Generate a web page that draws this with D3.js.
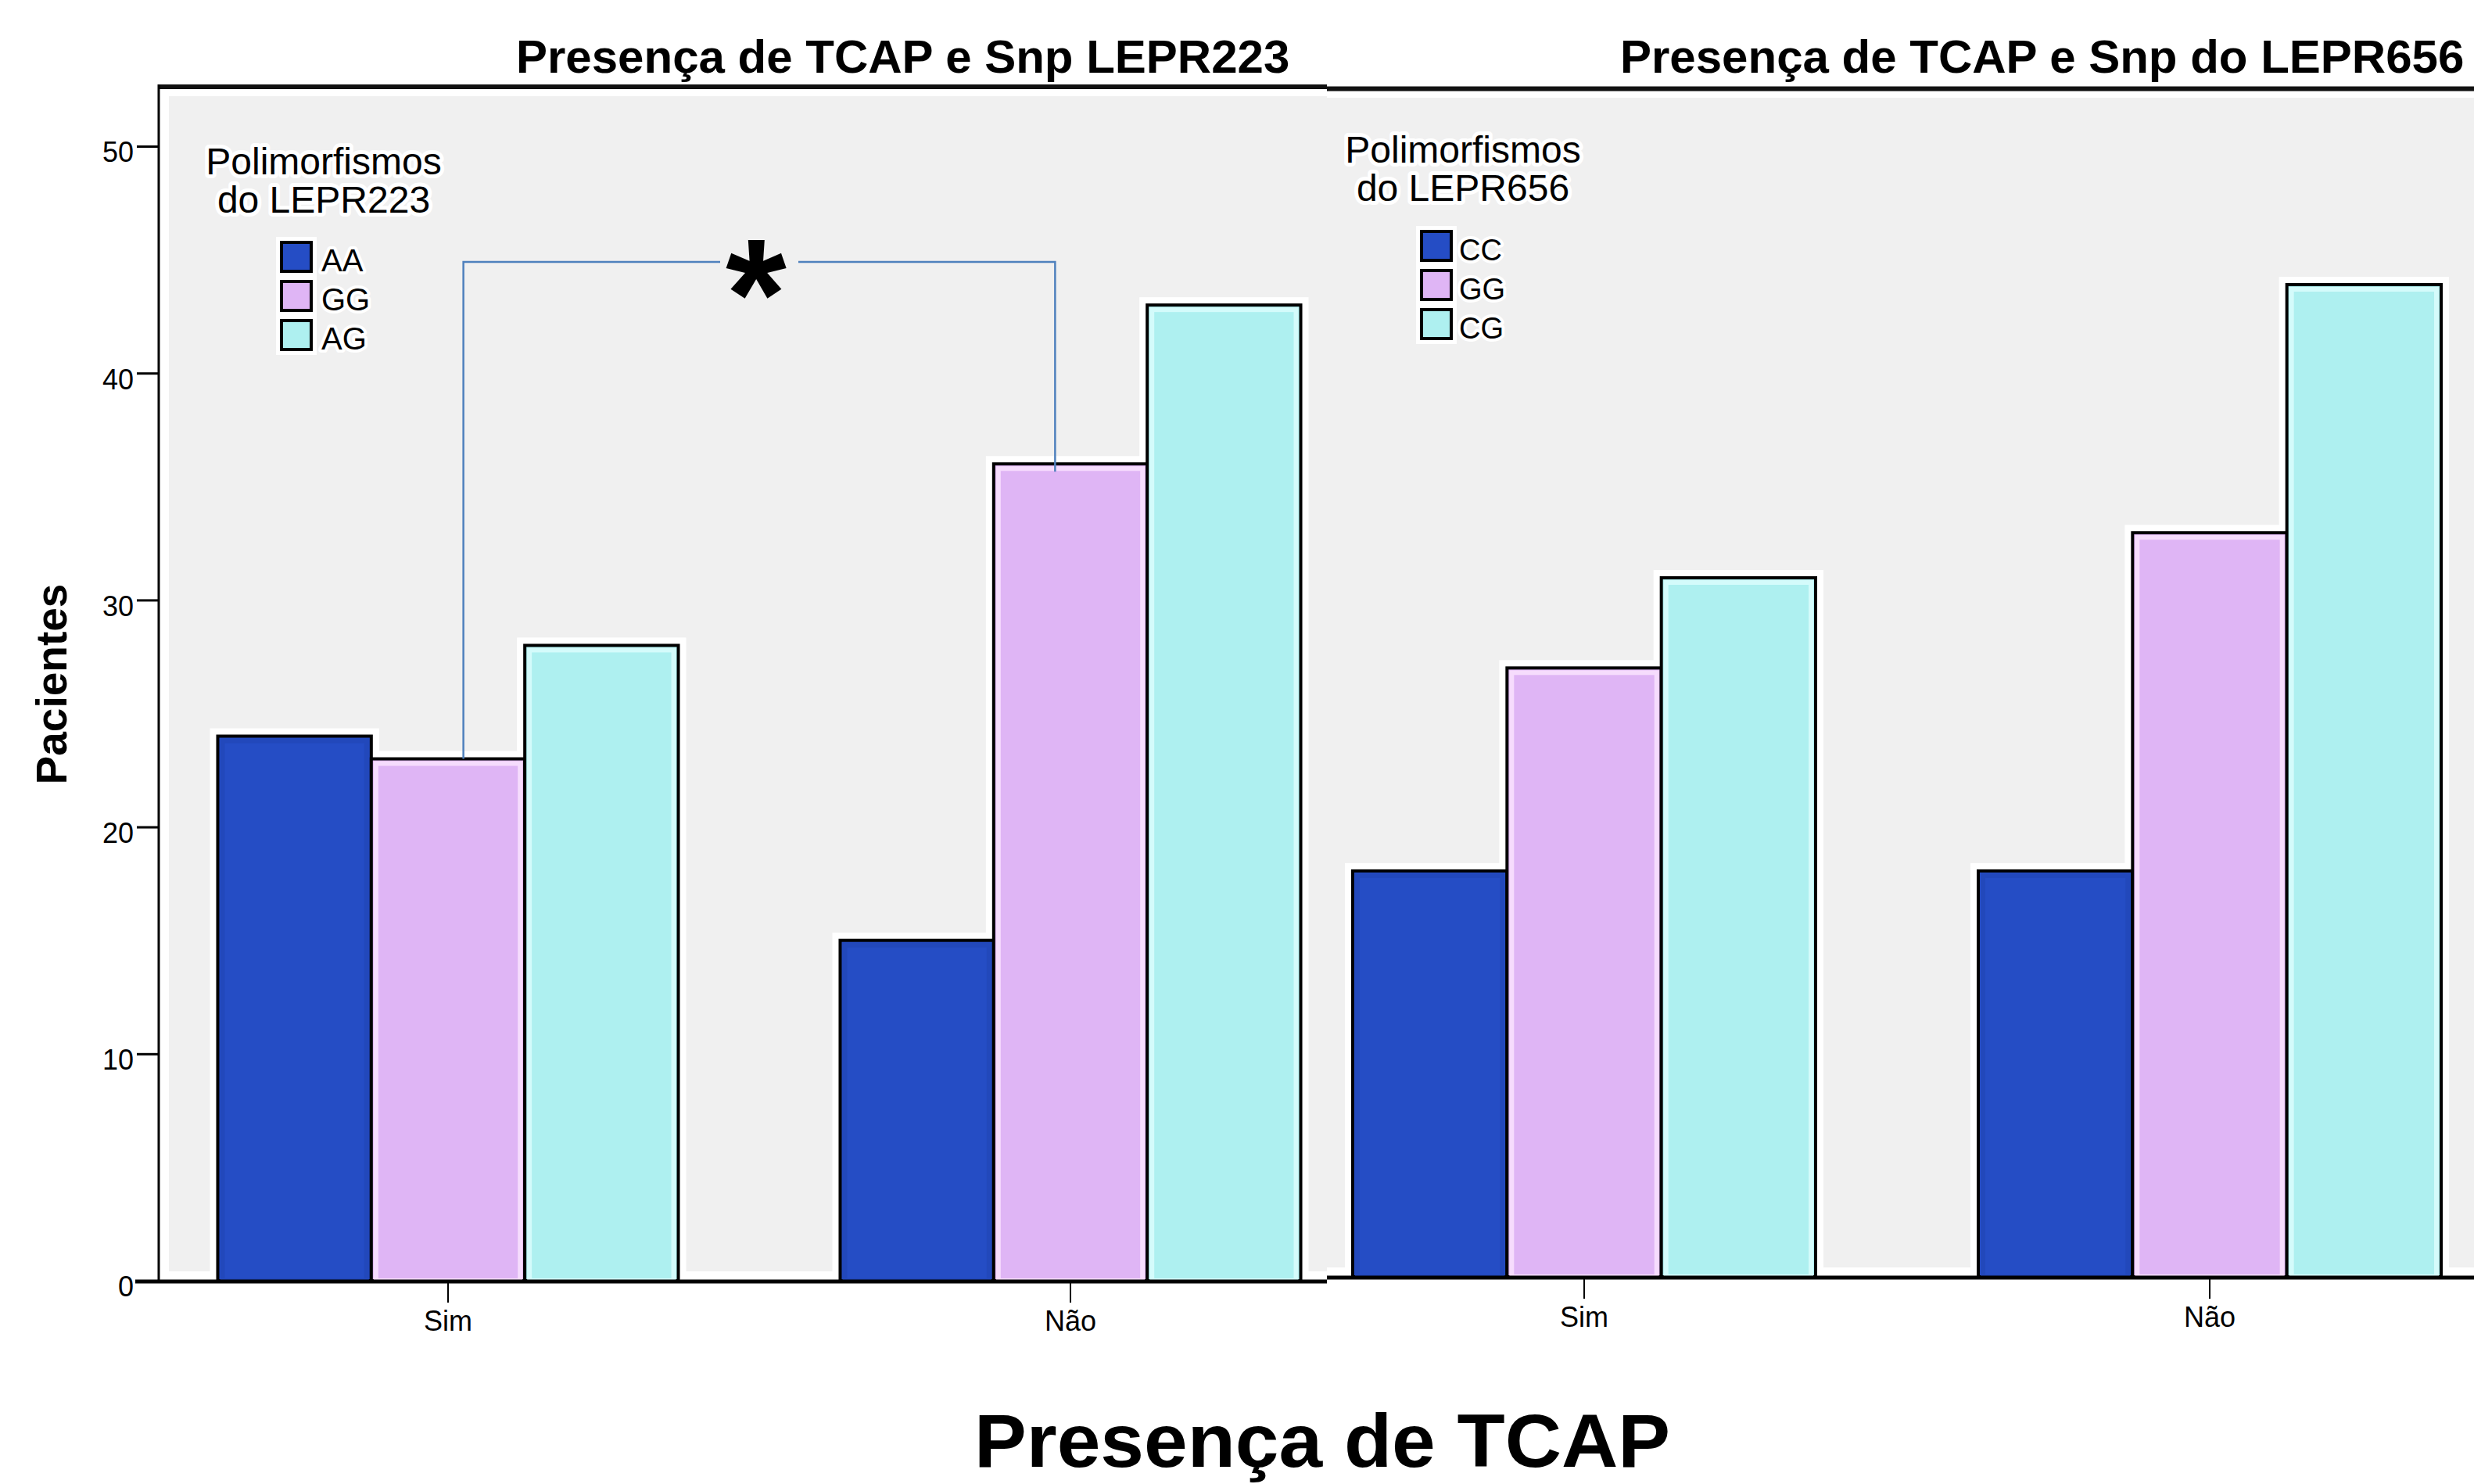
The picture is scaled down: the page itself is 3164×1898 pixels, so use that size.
<!DOCTYPE html>
<html>
<head>
<meta charset="utf-8">
<script src="https://cdn.jsdelivr.net/npm/d3@7"></script>
<style>
  body { margin: 0; background: #fff; }
  svg { display: block; }
</style>
</head>
<body>
<div id="chart"></div>
<script>
// chart data
const categories = ['Sim', 'Não']
const lepr223Genotypes = ['AA', 'GG', 'AG']
const lepr656Genotypes = ['CC', 'GG', 'CG']
const lepr223AA = [24, 15]
const lepr223GG = [23, 36]
const lepr223AG = [28, 43]
const lepr656CC = [18, 18]
const lepr656GG = [27, 33]
const lepr656CG = [31, 44]
const yTicks = [0, 10, 20, 30, 40, 50]

// fill + inner highlight per genotype slot
const fills = ['#254dc5', '#dfb5f5', '#aef0f0']
const highlights = ['#2248bb', '#f6dcfd', '#d4fbfb']
const bracketColor = '#4f81bd'
const font = 'Liberation Sans, Arial, sans-serif'

const W = 3164
const H = 1898

const svg = d3.select('#chart')
  .append('svg')
  .attr('width', W)
  .attr('height', H)
  .style('font-family', font)

svg.append('rect').attr('width', W).attr('height', H).attr('fill', '#fff')

// draws one grouped bar panel
function drawPanel(p) {
  const g = svg.append('g')

  const x = d3.scaleBand()
    .domain(categories)
    .range(p.xRange)
    .paddingInner(0.26)
    .paddingOuter(0.13)

  const xSub = d3.scaleBand()
    .domain(p.genotypes)
    .range([0, x.bandwidth()])

  const y = d3.scaleLinear().domain([0, 50]).range(p.yRange)

  // grey plot background
  g.append('rect')
    .attr('x', p.plot[0])
    .attr('y', p.plot[1])
    .attr('width', p.plot[2] - p.plot[0])
    .attr('height', p.plot[3] - p.plot[1])
    .attr('fill', '#f0f0f0')

  // flatten series into bar records
  const bars = []
  categories.forEach((c, ci) => {
    p.genotypes.forEach((gt, gi) => {
      bars.push({ cat: c, gt, gi, value: p.series[gi][ci] })
    })
  })

  // white halo behind bars
  g.selectAll('.halo')
    .data(bars)
    .enter()
    .append('rect')
    .attr('class', 'halo')
    .attr('x', d => x(d.cat) + xSub(d.gt))
    .attr('y', d => y(d.value))
    .attr('width', xSub.bandwidth())
    .attr('height', d => y(0) - y(d.value))
    .attr('fill', '#fff')
    .attr('stroke', '#fff')
    .attr('stroke-width', 20)

  const bar = g.selectAll('.bar')
    .data(bars)
    .enter()
    .append('g')
    .attr('class', 'bar')

  bar.append('rect')
    .attr('x', d => x(d.cat) + xSub(d.gt))
    .attr('y', d => y(d.value))
    .attr('width', xSub.bandwidth())
    .attr('height', d => y(0) - y(d.value))
    .attr('fill', d => fills[d.gi])
    .attr('stroke', '#000')
    .attr('stroke-width', 4)

  // lighter inner rim
  bar.append('rect')
    .attr('x', d => x(d.cat) + xSub(d.gt) + 6)
    .attr('y', d => y(d.value) + 6)
    .attr('width', xSub.bandwidth() - 12)
    .attr('height', d => y(0) - y(d.value) - 6)
    .attr('fill', 'none')
    .attr('stroke', d => highlights[d.gi])
    .attr('stroke-width', 6)

  // top frame line
  g.append('line')
    .attr('x1', p.frame[0])
    .attr('x2', p.frame[1])
    .attr('y1', p.frameY)
    .attr('y2', p.frameY)
    .attr('stroke', '#111')
    .attr('stroke-width', 6)

  // x axis
  const xAxis = g.append('g')
    .attr('transform', `translate(0,${y(0)})`)
    .call(d3.axisBottom(x).tickSize(28).tickPadding(10))
  xAxis.select('.domain').remove()
  xAxis.selectAll('.tick line').attr('stroke', '#000').attr('stroke-width', 2)
  xAxis.selectAll('.tick text')
    .attr('fill', '#000')
    .style('font-size', '36px')
    .style('font-family', font)

  g.append('line')
    .attr('x1', p.frame[0] - (p.yAxis ? 30 : 0))
    .attr('x2', p.frame[1])
    .attr('y1', y(0) + 1)
    .attr('y2', y(0) + 1)
    .attr('stroke', '#000')
    .attr('stroke-width', 5)

  // y axis (left panel only)
  if (p.yAxis) {
    const yAxis = g.append('g')
      .attr('transform', `translate(${p.frame[0]},0)`)
      .call(d3.axisLeft(y).tickValues(yTicks).tickSize(28).tickPadding(4))
    yAxis.select('.domain').remove()
    yAxis.selectAll('.tick line').attr('stroke', '#000').attr('stroke-width', 3)
    yAxis.selectAll('.tick text')
      .attr('fill', '#000')
      .attr('dy', '0.55em')
      .style('font-size', '36px')
      .style('font-family', font)

    g.append('line')
      .attr('x1', p.frame[0])
      .attr('x2', p.frame[0])
      .attr('y1', p.frameY - 3)
      .attr('y2', y(0) + 3)
      .attr('stroke', '#000')
      .attr('stroke-width', 3)
  }

  // panel title
  g.append('text')
    .attr('x', p.titleX)
    .attr('y', 93)
    .text(p.title)
    .style('font-size', '60px')
    .style('font-weight', 'bold')

  // legend
  const lg = g.append('g')
  lg.selectAll('.lt')
    .data(p.legendTitle)
    .enter()
    .append('text')
    .attr('x', p.legend.cx)
    .attr('y', (d, i) => p.legend.titleY + i * 49)
    .attr('text-anchor', 'middle')
    .attr('stroke', '#fff')
    .attr('stroke-width', 10)
    .attr('stroke-linejoin', 'round')
    .style('paint-order', 'stroke')
    .style('font-size', '48px')
    .text(d => d)

  const item = lg.selectAll('.li')
    .data(p.genotypes)
    .enter()
    .append('g')
    .attr('transform', (d, i) => `translate(${p.legend.sx},${p.legend.sy + i * 50})`)

  item.append('rect')
    .attr('width', 38)
    .attr('height', 37)
    .attr('fill', '#fff')
    .attr('stroke', '#fff')
    .attr('stroke-width', 14)
  item.append('rect')
    .attr('width', 38)
    .attr('height', 37)
    .attr('fill', (d, i) => fills[i])
    .attr('stroke', '#000')
    .attr('stroke-width', 4)
  item.append('text')
    .attr('x', p.legend.lx)
    .attr('y', 37)
    .attr('stroke', '#fff')
    .attr('stroke-width', 8)
    .attr('stroke-linejoin', 'round')
    .style('paint-order', 'stroke')
    .style('font-size', p.legend.fs + 'px')
    .text(d => d)

  return { x, xSub, y }
}

const left = drawPanel({
  title: 'Presença de TCAP e Snp LEPR223',
  titleX: 660,
  legendTitle: ['Polimorfismos', 'do LEPR223'],
  genotypes: lepr223Genotypes,
  series: [lepr223AA, lepr223GG, lepr223AG],
  xRange: [175, 1767],
  yRange: [1638, 187],
  plot: [216, 123, 1697, 1626],
  frame: [203, 1697],
  frameY: 111,
  yAxis: true,
  legend: { cx: 414, titleY: 223, sx: 360, sy: 310, lx: 51, fs: 40 },
})

drawPanel({
  title: 'Presença de TCAP e Snp do LEPR656',
  titleX: 2072,
  legendTitle: ['Polimorfismos', 'do LEPR656'],
  genotypes: lepr656Genotypes,
  series: [lepr656CC, lepr656GG, lepr656CG],
  xRange: [1626, 3226],
  yRange: [1633, 191],
  plot: [1697, 125, W, 1621],
  frame: [1697, W],
  frameY: 113.5,
  yAxis: false,
  legend: { cx: 1871, titleY: 208, sx: 1818, sy: 296, lx: 48, fs: 38 },
})

// significance bracket between GG bars of the left panel
const bx1 = left.x('Sim') + left.xSub('GG') + left.xSub.bandwidth() * 0.6
const bx2 = left.x('Não') + left.xSub('GG') + left.xSub.bandwidth() * 0.4
const by = left.y(44.9)
const mid = (bx1 + bx2) / 2
const bracket = d3.path()
bracket.moveTo(bx1, left.y(lepr223GG[0]))
bracket.lineTo(bx1, by)
bracket.lineTo(mid - 50, by)
bracket.moveTo(mid + 50, by)
bracket.lineTo(bx2, by)
bracket.lineTo(bx2, left.y(lepr223GG[1]) + 10)

svg.append('path')
  .attr('d', bracket.toString())
  .attr('fill', 'none')
  .attr('stroke', bracketColor)
  .attr('stroke-width', 2.5)

svg.append('text')
  .attr('x', mid - 4)
  .attr('y', by + 110)
  .attr('text-anchor', 'middle')
  .style('font-size', '200px')
  .style('font-weight', 'bold')
  .text('*')

// y axis label
svg.append('text')
  .attr('transform', 'translate(85,875) rotate(-90)')
  .attr('text-anchor', 'middle')
  .style('font-size', '55px')
  .style('font-weight', 'bold')
  .text('Pacientes')

// shared x axis label
svg.append('text')
  .attr('x', 1691)
  .attr('y', 1876)
  .attr('text-anchor', 'middle')
  .attr('textLength', 890)
  .attr('lengthAdjust', 'spacingAndGlyphs')
  .style('font-size', '96px')
  .style('font-weight', 'bold')
  .text('Presença de TCAP')
</script>
</body>
</html>
